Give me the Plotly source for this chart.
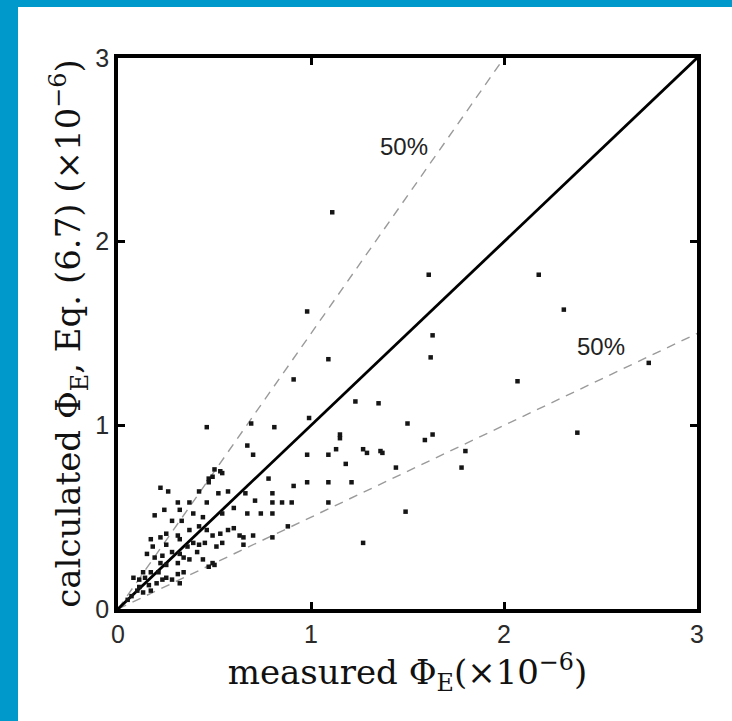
import plotly.graph_objects as go

# measured (x) and calculated (y) values, in units of 1e-6
measured = [
    1.11, 1.61, 2.18, 0.98, 2.31, 1.63, 1.62, 1.09, 2.75, 2.07,
    1.23, 1.35, 0.99, 1.50, 1.15, 1.63, 1.59, 2.38, 1.13, 1.27,
    1.36, 1.80, 1.78, 1.29, 1.37, 1.49, 1.27, 0.91,
    0.46, 0.69, 0.81, 1.15, 0.67, 0.70, 0.98, 1.09, 1.18, 1.44,
    0.50, 0.54, 0.47, 0.78, 0.22, 0.91, 0.98, 1.09, 1.21, 0.42,
    0.26, 0.52, 0.37, 0.80, 0.66, 0.31, 0.46, 0.71, 0.80, 0.85,
    0.90, 1.09, 0.24, 0.39, 0.28, 0.33, 0.54, 0.60, 0.67, 0.74,
    0.80, 0.88, 0.19, 0.32, 0.44, 0.25, 0.31, 0.37, 0.42, 0.46,
    0.49, 0.53, 0.57, 0.60, 0.63, 0.65, 0.70, 0.80, 0.17, 0.22,
    0.32, 0.39, 0.42, 0.51, 0.54, 0.65, 0.15, 0.19, 0.23, 0.28,
    0.32, 0.44, 0.49, 0.47, 0.50, 0.22, 0.25, 0.31, 0.37, 0.13,
    0.17, 0.21, 0.25, 0.31, 0.34, 0.08, 0.11, 0.14, 0.11, 0.16,
    0.20, 0.23, 0.10, 0.13, 0.17, 0.07, 0.05, 0.28, 0.32, 0.18,
    0.25, 0.36, 0.41, 0.45, 0.34, 0.53, 0.49, 0.47, 0.57,
]
calculated = [
    2.16, 1.82, 1.82, 1.62, 1.63, 1.49, 1.37, 1.36, 1.34, 1.24,
    1.13, 1.12, 1.04, 1.01, 0.93, 0.95, 0.92, 0.96, 0.87, 0.87,
    0.86, 0.86, 0.77, 0.85, 0.85, 0.53, 0.36, 1.25,
    0.99, 1.01, 0.99, 0.95, 0.89, 0.84, 0.84, 0.84, 0.79, 0.77,
    0.76, 0.74, 0.71, 0.71, 0.66, 0.67, 0.69, 0.69, 0.69, 0.64,
    0.64, 0.63, 0.58, 0.63, 0.63, 0.58, 0.58, 0.59, 0.58, 0.58,
    0.58, 0.58, 0.54, 0.52, 0.48, 0.48, 0.52, 0.55, 0.52, 0.52,
    0.52, 0.45, 0.51, 0.54, 0.50, 0.41, 0.40, 0.43, 0.45, 0.43,
    0.40, 0.41, 0.43, 0.44, 0.40, 0.39, 0.40, 0.39, 0.38, 0.39,
    0.38, 0.36, 0.35, 0.34, 0.36, 0.35, 0.30, 0.28, 0.29, 0.31,
    0.30, 0.27, 0.25, 0.23, 0.24, 0.25, 0.24, 0.25, 0.27, 0.20,
    0.20, 0.20, 0.17, 0.19, 0.20, 0.17, 0.16, 0.17, 0.12, 0.13,
    0.14, 0.16, 0.10, 0.09, 0.10, 0.07, 0.05, 0.16, 0.14, 0.34,
    0.35, 0.34, 0.31, 0.36, 0.28, 0.75, 0.72, 0.69, 0.64,
]

axis_range = [0, 3]
tick_vals = [0, 1, 2, 3]
tick_text = ["0", "1", "2", "3"]
ref_x = [0, 3]
ref_y = [0, 3]
upper_x = [0, 2]
upper_y = [0, 3]
lower_x = [0, 3]
lower_y = [0, 1.5]
label_text = ["50%", "50%"]
label_x = [1.48, 2.50]
label_y = [2.52, 1.43]

fig = go.Figure()
fig.add_trace(go.Scatter(x=upper_x, y=upper_y, mode="lines",
                         line=dict(color="#9a9a9a", width=1.4, dash="9px,7px"),
                         hoverinfo="skip"))
fig.add_trace(go.Scatter(x=lower_x, y=lower_y, mode="lines",
                         line=dict(color="#9a9a9a", width=1.4, dash="9px,7px"),
                         hoverinfo="skip"))
fig.add_trace(go.Scatter(x=ref_x, y=ref_y, mode="lines",
                         line=dict(color="black", width=2.8), hoverinfo="skip"))
fig.add_trace(go.Scatter(x=measured, y=calculated, mode="markers",
                         marker=dict(symbol="square", size=4.5, color="#151515",
                                     line=dict(width=0))))

for t, lx, ly in zip(label_text, label_x, label_y):
    fig.add_annotation(x=lx, y=ly, text=t, showarrow=False,
                       font=dict(family="Liberation Sans", size=24, color="#222"))

axis_common = dict(
    range=axis_range, tickvals=tick_vals, ticktext=tick_text,
    showgrid=False, zeroline=False, showline=True, linecolor="black",
    linewidth=3.5, mirror="ticks", ticks="inside", ticklen=7, tickwidth=2.5,
    tickcolor="black",
    tickfont=dict(family="Liberation Sans", size=25, color="#2a2a2a"),
)

W, H = 732, 721
L, R, T, B = 118, 35, 58, 112
PW, PH = W - L - R, H - T - B


def px_x(p):
    return (p - L) / PW


def px_y(p):
    return (H - B - p) / PH


fig.update_layout(
    width=W, height=H,
    margin=dict(l=L, r=R, t=T, b=B),
    paper_bgcolor="#0099cc", plot_bgcolor="white",
    showlegend=False,
    xaxis=dict(**axis_common,
               title=dict(text="measured Φ<sub>E</sub>(×10<sup>−6</sup>)",
                          font=dict(family="DejaVu Serif", size=34, color="#111"),
                          standoff=5)),
    yaxis=dict(**axis_common,
               title=dict(text="calculated Φ<sub>E</sub>, Eq. (6.7) (×10<sup>−6</sup>)",
                          font=dict(family="DejaVu Serif", size=34, color="#111"),
                          standoff=5)),
    shapes=[
        dict(type="rect", xref="paper", yref="paper",
             x0=px_x(18), x1=px_x(W + 2), y0=px_y(H + 2), y1=px_y(7),
             fillcolor="white", line=dict(width=0), layer="below"),
    ],
)

fig.write_html("out.html", config={"displayModeBar": False},
               post_script="document.body.style.margin='0';")
